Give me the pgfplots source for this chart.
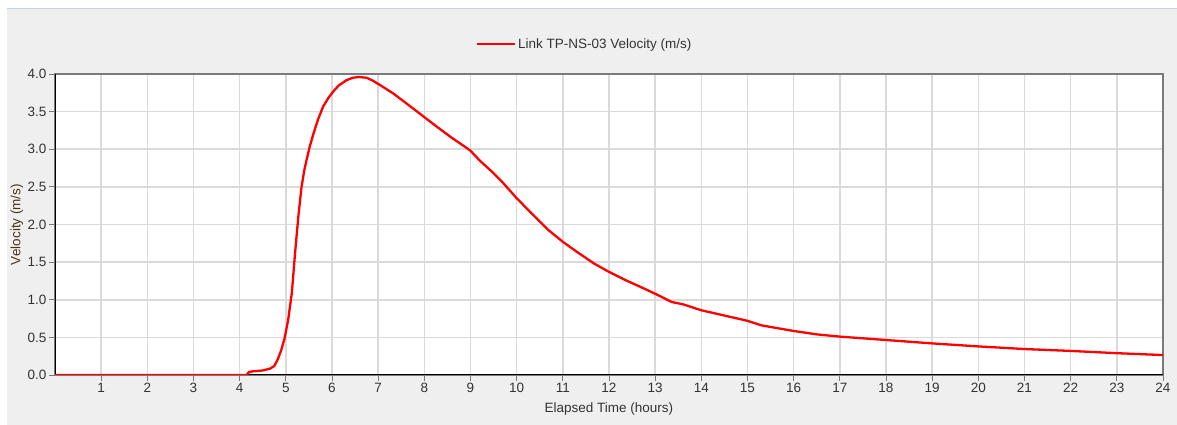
\documentclass[border=0pt]{standalone}
\usepackage{pgfplots}
\pgfplotsset{compat=1.18}
\usepackage{fontspec}
\setmainfont{Liberation Sans}

\definecolor{bggray}{HTML}{EFEFEF}
\definecolor{gridgray}{HTML}{DADADA}
\definecolor{framegray}{HTML}{7A7A7A}
\definecolor{ticktext}{HTML}{333333}
\definecolor{ylab}{HTML}{4A3418}
\definecolor{topline}{HTML}{C5D5E6}

\begin{document}
\begin{tikzpicture}
\useasboundingbox (0,0) rectangle (1177pt,425pt);
\fill[bggray] (7pt,0pt) rectangle (1177pt,416pt);
\draw[topline, line width=1pt] (7pt,416pt) -- (1177pt,416pt);
\begin{axis}[
  at={(55pt,50pt)}, anchor=south west,
  scale only axis,
  width=1108pt, height=301pt,
  xmin=0, xmax=24, ymin=0, ymax=4,
  xtick={1,...,24},
  ytick={0,0.5,...,4},
  /pgf/number format/assume math mode=true,
  xtick pos=bottom, ytick pos=left,
  tick align=outside,
  major tick length=6pt,
  tick style={framegray, line width=0.8pt},
  grid=major,
  major grid style={gridgray, line width=1.6pt},
  axis background/.style={fill=white},
  axis line style={framegray, line width=1.6pt},
  tick label style={font=\fontsize{13.5}{14}\selectfont, text=ticktext},
  xticklabel style={yshift=1pt},
  yticklabel style={xshift=1pt, /pgf/number format/.cd, fixed, fixed zerofill, precision=1},
  xlabel={Elapsed Time (hours)},
  ylabel={Velocity (m/s)},
  every axis x label/.style={at={(axis description cs:0.5,0)}, anchor=center, yshift=-34pt, font=\fontsize{13.5}{14}\selectfont, text=ticktext},
  every axis y label/.style={at={(axis description cs:0,0.5)}, rotate=90, anchor=center, yshift=38pt, font=\fontsize{13.5}{14}\selectfont, text=ylab},
  legend style={at={(axis description cs:0.478,1.1)}, anchor=center, draw=none, fill=none,
    font=\fontsize{13.5}{14}\selectfont, text=ticktext},
  legend image code/.code={\draw[#1] (0pt,0pt) -- (38pt,0pt);},
]
\draw[black, line width=2.4pt] (axis cs:0,4) -- (axis cs:0,0) -- (axis cs:24,0);
\addplot[red, line width=2.3pt, line join=round] coordinates {
(0,0) (4.15,0) (4.2,0.04) (4.3,0.05) (4.5,0.06) (4.66,0.085) (4.75,0.12)
(4.82,0.2) (4.9,0.33) (4.97,0.48) (5.05,0.73) (5.13,1.09) (5.2,1.62)
(5.27,2.10) (5.34,2.50) (5.4,2.72) (5.45,2.86) (5.52,3.04) (5.6,3.21)
(5.7,3.40) (5.81,3.57) (5.92,3.68) (6.03,3.77) (6.15,3.85) (6.32,3.92)
(6.45,3.95) (6.57,3.96) (6.75,3.95) (6.89,3.91) (7.1,3.83) (7.33,3.74)
(7.76,3.54) (8.27,3.30) (8.6,3.15) (8.84,3.05) (9.0,2.98) (9.2,2.85)
(9.45,2.71) (9.68,2.57)
(10,2.35) (10.32,2.15) (10.68,1.93) (11,1.77) (11.32,1.63) (11.68,1.48)
(12,1.37) (12.36,1.26) (12.72,1.16) (13,1.08) (13.36,0.97) (13.6,0.94)
(14,0.86) (14.43,0.80) (15,0.72) (15.3,0.66) (16,0.585) (16.5,0.54)
(17,0.51) (18,0.465) (19,0.42) (20,0.38) (21,0.345) (22,0.32) (23,0.29)
(24,0.265)
};
\addlegendentry{Link TP-NS-03 Velocity (m/s)}
\end{axis}
\end{tikzpicture}
\end{document}
